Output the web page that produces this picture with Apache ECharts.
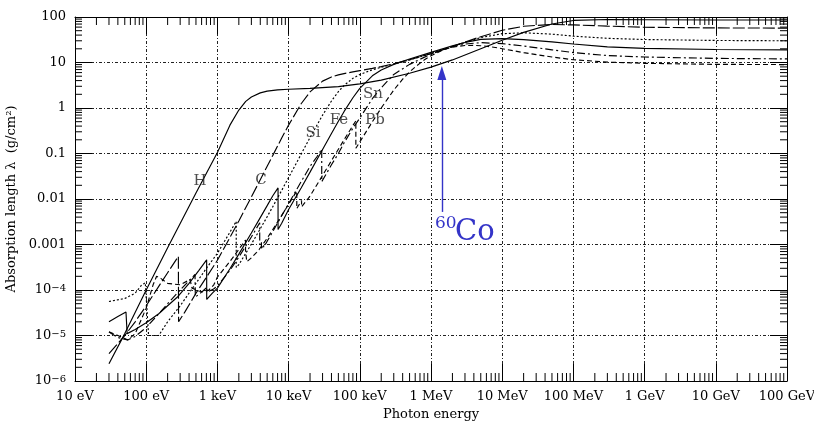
<!DOCTYPE html>
<html><head><meta charset="utf-8">
<script src="https://cdn.jsdelivr.net/npm/echarts@6/dist/echarts.min.js"></script>
<style>html,body{margin:0;padding:0;background:#fff}#c{width:814px;height:424px}</style>
</head><body><div id="c"></div>
<script>
// ---- tick labels ----
const xTickLabels = ['10 eV','100 eV','1 keV','10 keV','100 keV','1 MeV','10 MeV','100 MeV','1 GeV','10 GeV','100 GeV'];
const yTickLabels = {'-6':'{b|10}{s|−6}','-5':'{b|10}{s|−5}','-4':'{b|10}{s|−4}','-3':'{p|0.001}','-2':'{p|0.01}','-1':'{p|0.1}','0':'{p|1}','1':'{p|10}','2':'{p|100}'};

// ---- series: [photon energy (eV), absorption length (g/cm^2)] ----
const hData = [[30,2.4e-6],[50,1.1e-5],[100,1.0e-4],[200,8.5e-4],[500,0.0135],[1000,0.105],[1500,0.42],[2000,0.9],[2500,1.4],[3000,1.75],[4000,2.15],[5000,2.35],[7000,2.5],[10000,2.58],[20000,2.7],[50000,2.95],[100000,3.4],[200000,4.1],[500000,5.8],[1e6,7.9],[2e6,11.4],[5e6,20],[1e7,30.7],[2e7,46],[5e7,70],[1e8,84],[3e8,88],[1e9,87],[1e10,86],[1e11,86]];
const cData = [[30,4.0e-6],[50,1.0e-5],[70,2.0e-5],[100,4.5e-5],[150,1.2e-4],[200,2.4e-4],[283,5.5e-4],[285,2.0e-5],[350,3.3e-5],[500,8.5e-5],[700,1.9e-4],[1000,4.5e-4],[1500,1.43e-3],[2000,3.3e-3],[3000,0.0111],[4000,0.0265],[5000,0.0523],[6000,0.091],[8000,0.219],[10000,0.421],[15000,1.24],[20000,2.26],[30000,3.9],[40000,4.82],[50000,5.34],[60000,5.7],[80000,6.21],[100000,6.61],[150000,7.42],[200000,8.14],[300000,9.38],[500000,11.5],[1e6,15.7],[2e6,22.5],[3e6,28.1],[5e6,36.9],[1e7,51],[2e7,62.6],[5e7,68.5],[1e8,67],[3e8,63],[1e9,59.5],[1e10,57.5],[1e11,57]];
const siData = [[30,5.6e-5],[50,6.5e-5],[70,8.5e-5],[85,1.25e-4],[97,1.45e-4],[108,1.0e-5],[150,1.0e-5],[200,2.0e-5],[300,4.5e-5],[500,1.4e-4],[700,3.0e-4],[1000,6.4e-4],[1500,1.87e-3],[1838,3.23e-3],[1839,3.13e-4],[2000,3.6e-4],[3000,1.02e-3],[4000,2.21e-3],[5000,4.08e-3],[6000,6.8e-3],[8000,0.01546],[10000,0.0295],[15000,0.0967],[20000,0.224],[30000,0.696],[40000,1.43],[50000,2.28],[60000,3.12],[80000,4.49],[100000,5.45],[150000,6.91],[200000,7.84],[300000,9.24],[500000,11.4],[1e6,15.7],[2e6,22.4],[3e6,27.7],[5e6,35.3],[1e7,43],[2e7,45],[5e7,42],[1e8,38],[3e8,34],[1e9,32],[1e10,30.5],[1e11,30]];
const feData = [[30,2.0e-5],[40,2.6e-5],[52,3.3e-5],[54,1.1e-5],[70,1.35e-5],[100,1.9e-5],[150,3.0e-5],[200,4.5e-5],[280,7.2e-5],[400,1.4e-4],[550,2.7e-4],[706,4.6e-4],[708,6.2e-5],[850,8.5e-5],[1000,1.1e-4],[1500,2.94e-4],[2000,6.15e-4],[3000,1.79e-3],[4000,3.9e-3],[5000,7.15e-3],[6000,0.0118],[7110,0.0175],[7112,2.13e-3],[8000,2.92e-3],[10000,5.86e-3],[15000,0.0175],[20000,0.039],[30000,0.122],[40000,0.276],[50000,0.511],[60000,0.83],[80000,1.68],[100000,2.69],[150000,5.09],[200000,6.85],[300000,9.1],[500000,11.9],[1e6,16.7],[2e6,23.4],[3e6,27.6],[5e6,32.3],[1e7,33.4],[2e7,31.9],[5e7,28.5],[1e8,25.5],[3e8,22],[1e9,20.5],[1e10,19.3],[1e11,19]];
const snData = [[30,1.2e-5],[40,9e-6],[55,8e-6],[70,9.5e-6],[100,1.5e-5],[150,3.0e-5],[200,5.0e-5],[300,1.0e-4],[400,1.6e-4],[485,2.2e-4],[490,7.0e-5],[600,9.0e-5],[714,1.15e-4],[716,9.0e-5],[884,1.05e-4],[886,9.5e-5],[1000,1.23e-4],[1500,2.7e-4],[2000,5.3e-4],[3000,1.46e-3],[3928,3.0e-3],[3930,1.0e-3],[4155,1.16e-3],[4157,8.3e-4],[4464,1.0e-3],[4466,8.7e-4],[5000,1.18e-3],[6000,1.93e-3],[8000,4.3e-3],[10000,7.9e-3],[15000,0.024],[20000,0.052],[25000,0.085],[29190,0.125],[29200,0.024],[30000,0.0257],[40000,0.0564],[50000,0.1],[60000,0.17],[80000,0.36],[100000,0.6],[150000,1.6],[200000,2.79],[300000,5.46],[500000,9.1],[1e6,15.4],[2e6,22.3],[3e6,25.4],[5e6,27.3],[1e7,26],[2e7,23],[5e7,19],[1e8,16.5],[3e8,14.2],[1e9,13.2],[1e10,12.3],[1e11,12]];
const pbData = [[30,1.2e-5],[40,1.0e-5],[55,8.0e-6],[70,1.1e-5],[100,4.0e-5],[125,1.3e-4],[140,2.0e-4],[160,1.8e-4],[200,1.4e-4],[300,1.3e-4],[413,1.7e-4],[440,1.1e-4],[550,9.5e-5],[645,9.0e-5],[760,1.0e-4],[890,1.3e-4],[1000,1.92e-4],[1500,4.24e-4],[2000,7.8e-4],[2484,1.25e-3],[2485,7.16e-4],[2585,6.9e-4],[2586,4.19e-4],[3000,5.09e-4],[3066,5.38e-4],[3067,4.64e-4],[3554,6.68e-4],[3555,6.31e-4],[3850,7.75e-4],[3851,7.31e-4],[4000,8.0e-4],[5000,1.37e-3],[6000,2.14e-3],[8000,4.37e-3],[10000,7.66e-3],[13034,0.015],[13036,6.16e-3],[15199,9.28e-3],[15201,6.73e-3],[15860,7.44e-3],[15862,6.46e-3],[20000,0.0116],[30000,0.033],[40000,0.0696],[50000,0.124],[60000,0.199],[80000,0.413],[88000,0.52],[88010,0.13],[100000,0.18],[150000,0.497],[200000,1.0],[300000,2.48],[400000,4.3],[500000,6.2],[600000,8.0],[800000,11.3],[1e6,14.1],[1.5e6,19.2],[2e6,21.7],[3e6,23.6],[4e6,23.8],[5e6,23.4],[6e6,22.8],[8e6,21.4],[1e7,20.1],[2e7,16.5],[5e7,13.2],[1e8,11.5],[3e8,10.2],[1e9,9.6],[1e10,9.1],[1e11,9.0]];

// ---- element labels ----
const labelNames = ['H','C','Si','Fe','Sn','Pb'];
const labelE = [570, 4100, 22000, 51000, 153000, 163000];
const labelLambda = [0.0253, 0.0266, 0.286, 0.55, 2.05, 0.55];

// ---- 60Co annotation ----
const coEnergy = 1.42e6;
const coArrowFrom = 0.0052;
const coArrowTo = 5.9;

const FONT = 'DejaVu Serif';
const INK = '#000';
const BLUE = '#3434c8';

function minorValues(lo, hi) {
  const out = [];
  for (let e = lo; e < hi; e++) for (let m = 2; m <= 9; m++) out.push(m * Math.pow(10, e));
  return out;
}
const xMinor = minorValues(1, 11).map(v => [v, 1]);
const yMinor = minorValues(-6, 2).map(v => [1e6, v]);

const chart = echarts.init(document.getElementById('c'), null, {renderer: 'canvas'});

function curve(name, data, type) {
  return {
    name, type: 'line', data, showSymbol: false, symbol: 'none', smooth: false,
    lineStyle: {color: INK, width: 1.15, type: type},
    z: 3, silent: true
  };
}

const gridLine = {show: true, lineStyle: {color: '#222', width: 1, type: [3, 2, 1, 2]}};

const option = {
  animation: false,
  backgroundColor: '#fff',
  grid: {left: 75, right: 27, top: 17, bottom: 43, containLabel: false, outerBoundsMode: 'none'},
  xAxis: [{
    type: 'log', logBase: 10, min: 10, max: 1e11, interval: 1, splitNumber: 10,
    name: 'Photon energy', nameLocation: 'middle', nameGap: 26,
    nameTextStyle: {fontFamily: FONT, fontSize: 13, color: INK},
    axisLine: {show: true, lineStyle: {color: INK, width: 1}},
    axisTick: {show: true, inside: true, length: 17, lineStyle: {color: INK}},
    minorTick: {show: false},
    axisLabel: {margin: 9, fontFamily: FONT, fontSize: 13, color: INK,
      formatter: v => xTickLabels[Math.round(Math.log10(v)) - 1]},
    splitLine: gridLine
  }, {
    type: 'log', logBase: 10, min: 10, max: 1e11, interval: 1, splitNumber: 10, position: 'top',
    axisLine: {show: true, lineStyle: {color: INK, width: 1}},
    axisTick: {show: true, inside: true, length: 17, lineStyle: {color: INK}},
    axisLabel: {show: false}, splitLine: {show: false}
  }],
  yAxis: [{
    type: 'log', logBase: 10, min: 1e-6, max: 100, interval: 1, splitNumber: 8,
    name: 'Absorption length λ  (g/cm²)', nameLocation: 'middle', nameGap: 49,
    nameTextStyle: {fontFamily: FONT, fontSize: 13, color: INK},
    axisLine: {show: true, lineStyle: {color: INK, width: 1}},
    axisTick: {show: true, inside: true, length: 17, lineStyle: {color: INK}},
    axisLabel: {margin: 9, color: INK,
      formatter: v => yTickLabels[String(Math.round(Math.log10(v)))],
      rich: {
        p: {fontFamily: FONT, fontSize: 13, color: INK},
        b: {fontFamily: FONT, fontSize: 13, color: INK, lineHeight: 13, padding: [7, 0, 0, 0], verticalAlign: 'bottom'},
        s: {fontFamily: FONT, fontSize: 10, color: INK, lineHeight: 10, verticalAlign: 'top'}
      }},
    splitLine: gridLine
  }, {
    type: 'log', logBase: 10, min: 1e-6, max: 100, interval: 1, splitNumber: 8, position: 'right',
    axisLine: {show: true, lineStyle: {color: INK, width: 1}},
    axisTick: {show: true, inside: true, length: 17, lineStyle: {color: INK}},
    axisLabel: {show: false}, splitLine: {show: false}
  }],
  series: [
    curve('H', hData, 'solid'),
    curve('C', cData, [12, 3]),
    curve('Si', siData, [2, 2]),
    curve('Fe', feData, 'solid'),
    curve('Sn', snData, [8, 3, 2, 3]),
    curve('Pb', pbData, [5, 3]),
    {
      type: 'custom', name: 'xMinor', data: xMinor, silent: true, z: 4,
      encode: {x: 0, y: 1},
      renderItem: (params, api) => {
        const cs = params.coordSys;
        const x = api.coord([api.value(0), 1])[0];
        const b = cs.y + cs.height;
        return {type: 'group', children: [
          {type: 'line', shape: {x1: x, y1: b, x2: x, y2: b - 8}, style: {stroke: INK, lineWidth: 1}},
          {type: 'line', shape: {x1: x, y1: cs.y, x2: x, y2: cs.y + 8}, style: {stroke: INK, lineWidth: 1}}
        ]};
      }
    },
    {
      type: 'custom', name: 'yMinor', data: yMinor, silent: true, z: 4,
      encode: {x: 0, y: 1},
      renderItem: (params, api) => {
        const cs = params.coordSys;
        const y = api.coord([1e6, api.value(1)])[1];
        const r = cs.x + cs.width;
        return {type: 'group', children: [
          {type: 'line', shape: {x1: cs.x, y1: y, x2: cs.x + 7, y2: y}, style: {stroke: INK, lineWidth: 1}},
          {type: 'line', shape: {x1: r, y1: y, x2: r - 7, y2: y}, style: {stroke: INK, lineWidth: 1}}
        ]};
      }
    },
    {
      type: 'scatter', name: 'labels', symbolSize: 0, silent: true, z: 5,
      data: labelNames.map((n, i) => ({name: n, value: [labelE[i], labelLambda[i]]})),
      label: {show: true, position: 'inside', formatter: p => p.name,
        fontFamily: FONT, fontSize: 15, color: '#222'}
    },
    {
      type: 'line', name: 'co60', data: [], silent: true, z: 6,
      markLine: {
        silent: true, animation: false,
        symbol: ['none', 'triangle'], symbolSize: [9, 14],
        label: {show: false},
        lineStyle: {color: BLUE, width: 1.4, type: 'solid'},
        data: [[{coord: [coEnergy, coArrowFrom]}, {coord: [coEnergy, coArrowTo]}]]
      }
    }
  ],
  graphic: [
    {type: 'text', left: 435, top: 215, style: {text: '60', fontFamily: FONT, fontSize: 17, fill: BLUE}},
    {type: 'text', left: 455, top: 218, style: {text: 'Co', fontFamily: FONT, fontSize: 29, fill: BLUE}}
  ]
};
chart.setOption(option);
</script>
</body></html>
